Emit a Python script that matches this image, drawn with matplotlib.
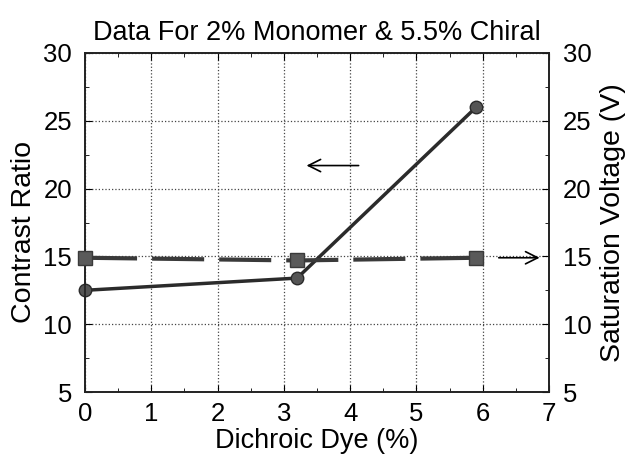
import matplotlib
matplotlib.use("Agg")
import matplotlib.pyplot as plt
from matplotlib.ticker import MultipleLocator

plt.rcParams['font.family'] = ['Liberation Sans', 'DejaVu Sans']

dye = [0, 3.2, 5.9]
contrast = [12.5, 13.4, 26.0]
voltage = [14.9, 14.7, 14.9]
title = "Data For 2% Monomer & 5.5% Chiral"

fig = plt.figure(figsize=(6.27, 4.55), dpi=100)
ax = fig.add_axes([85/627, 1 - 392/455, (549-85)/627, (392-53)/455])
ax2 = ax.twinx()

ax.plot(dye, contrast, '-', color='#2b2b2b', lw=2.5, marker='o', ms=9,
        mfc='#555555', mec='#2b2b2b', zorder=5, clip_on=False)
ax2.plot(dye, voltage, '--', color='#3a3a3a', lw=3, dashes=(12.5, 3.6), marker='s', ms=10,
         mfc='#5a5a5a', mec='#3a3a3a', zorder=5, clip_on=False)

ax.set_xlim(0, 7)
ax.set_ylim(5, 30)
ax2.set_ylim(5, 30)
ax.xaxis.set_major_locator(MultipleLocator(1))
ax.yaxis.set_major_locator(MultipleLocator(5))
ax2.yaxis.set_major_locator(MultipleLocator(5))
ax.xaxis.set_minor_locator(MultipleLocator(0.5))
ax.yaxis.set_minor_locator(MultipleLocator(2.5))
ax2.yaxis.set_minor_locator(MultipleLocator(2.5))
ax.grid(True, which='major', linestyle=':', color='#444444', lw=0.9)

for a in (ax, ax2):
    a.tick_params(which='both', direction='in', labelsize=18.5, top=True)
    a.tick_params(which='major', length=5)
    a.tick_params(which='minor', length=3)
    for s in a.spines.values():
        s.set_color('#222222')
        s.set_linewidth(1.2)
ax.tick_params(axis='x', pad=7)
ax.tick_params(axis='y', pad=9.3)
ax2.tick_params(axis='y', pad=10)

ax.set_xlabel("Dichroic Dye (%)", fontsize=19.5, va='baseline')
ax.xaxis.set_label_coords(0.5, -0.166)
ax.set_ylabel("Contrast Ratio", fontsize=20.5, va='center')
ax.yaxis.set_label_coords(-0.131, 0.472)
ax2.set_ylabel("Saturation Voltage (V)", fontsize=20.5, va='center')
ax2.yaxis.set_label_coords(1.138, 0.5)
ax.set_title(title, fontsize=19.5, pad=9.5)

ax.annotate('', xy=(3.3, 21.7), xytext=(4.17, 21.7),
            arrowprops=dict(arrowstyle='->', color='black', lw=1.2, mutation_scale=22))
ax2.annotate('', xy=(6.9, 14.9), xytext=(6.2, 14.9),
             arrowprops=dict(arrowstyle='->', color='black', lw=1.2, mutation_scale=22))

fig.savefig("out.png", dpi=100)
